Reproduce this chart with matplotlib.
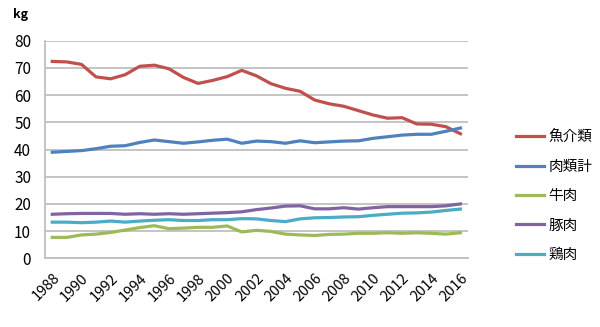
import matplotlib
matplotlib.use("Agg")
import matplotlib.pyplot as plt

plt.rcParams['font.family'] = ['Noto Sans CJK JP', 'DejaVu Sans']

years = list(range(1988, 2017))
fish = [72.4, 72.2, 71.3, 66.7, 66.0, 67.5, 70.6, 71.0, 69.7, 66.5, 64.3, 65.4, 66.8, 69.1,
        67.1, 64.2, 62.5, 61.4, 58.2, 56.8, 55.9, 54.3, 52.7, 51.5, 51.7, 49.4, 49.3, 48.4, 45.8]
meat = [39.0, 39.3, 39.6, 40.3, 41.2, 41.4, 42.6, 43.5, 42.9, 42.3, 42.8, 43.4, 43.8, 42.3,
        43.1, 42.9, 42.3, 43.2, 42.5, 42.8, 43.1, 43.2, 44.1, 44.7, 45.3, 45.6, 45.6, 46.7, 47.9]
beef = [7.7, 7.7, 8.6, 8.9, 9.5, 10.4, 11.3, 12.0, 10.9, 11.1, 11.4, 11.4, 11.9, 9.7,
        10.3, 9.9, 8.9, 8.6, 8.4, 8.8, 8.9, 9.2, 9.2, 9.4, 9.2, 9.4, 9.2, 8.9, 9.4]
pork = [16.2, 16.4, 16.5, 16.5, 16.5, 16.2, 16.4, 16.2, 16.4, 16.2, 16.4, 16.6, 16.8, 17.1,
        17.9, 18.5, 19.2, 19.3, 18.2, 18.2, 18.6, 18.1, 18.6, 19.0, 19.0, 19.0, 19.0, 19.3, 20.0]
chicken = [13.3, 13.3, 13.1, 13.3, 13.7, 13.3, 13.7, 14.0, 14.2, 13.9, 13.9, 14.2, 14.2, 14.6,
           14.5, 13.9, 13.5, 14.5, 14.9, 15.0, 15.2, 15.3, 15.8, 16.2, 16.6, 16.7, 17.0, 17.6, 18.1]

series = [("魚介類", fish, "#C0504D"),
          ("肉類計", meat, "#4F81BD"),
          ("牛肉", beef, "#9BBB59"),
          ("豚肉", pork, "#8064A2"),
          ("鶏肉", chicken, "#4BACC6")]

fig = plt.figure(figsize=(6.0, 3.27), dpi=100)
ax = fig.add_axes([0.075, 0.21, 0.7045, 0.6655])

x = list(range(len(years)))
for name, vals, col in series:
    ax.plot(x, vals, color=col, lw=2.3, label=name, solid_joinstyle='round')

ax.set_xlim(-0.5, len(years) - 0.5)
ax.set_ylim(0, 80)
ax.set_yticks(range(0, 81, 10))
ax.yaxis.grid(True, color="#BFBFBF", lw=1.3)
ax.set_axisbelow(True)
ax.set_xticks(x[::2])
ax.set_xticklabels([str(y) for y in years[::2]], rotation=45, ha='right',
                   rotation_mode='anchor', fontsize=10.5)
ax.tick_params(axis='y', labelsize=11, length=0, pad=10)
ax.tick_params(axis='x', length=0, pad=9)
for s in ['top', 'right']:
    ax.spines[s].set_visible(False)
for s in ['left', 'bottom']:
    ax.spines[s].set_color("#BFBFBF")
    ax.spines[s].set_linewidth(1.3)

fig.text(0.022, 0.955, "kg", fontsize=9, fontweight='bold', va='center', ha='left')

leg = fig.legend(loc='center left', bbox_to_anchor=(0.838, 0.40), frameon=False,
                 fontsize=10.5, handlelength=1.95, handletextpad=0.3, labelspacing=1.05)
plt.savefig("out.png", dpi=100)
